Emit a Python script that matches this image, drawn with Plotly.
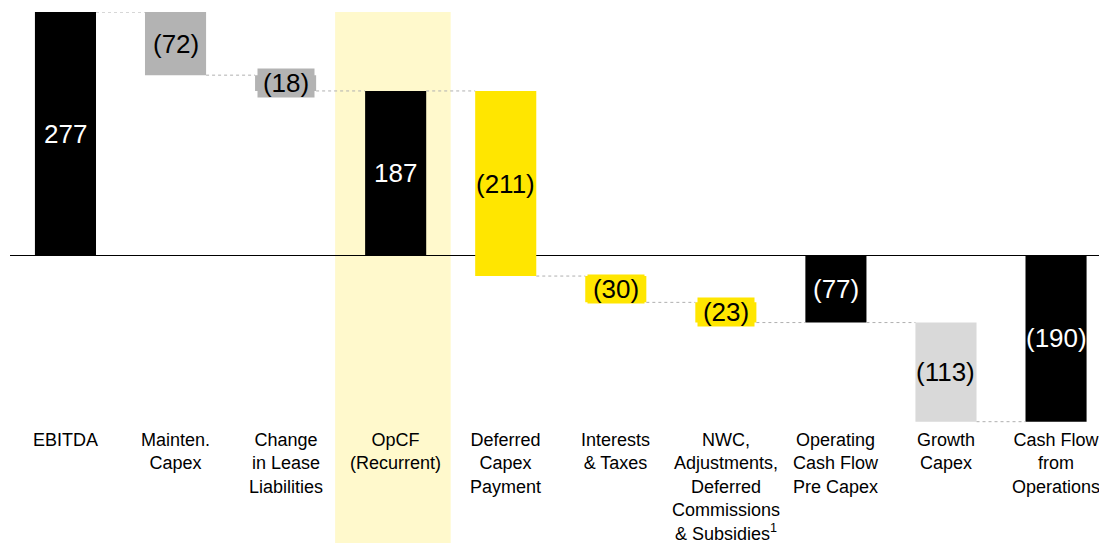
import plotly.graph_objects as go

# Datos del puente de caja
labels = ["EBITDA", "Mainten.<br>Capex", "Change<br>in Lease<br>Liabilities", "OpCF<br>(Recurrent)",
          "Deferred<br>Capex<br>Payment", "Interests<br>& Taxes",
          "NWC,<br>Adjustments,<br>Deferred<br>Commissions<br>& Subsidies<sup>1</sup>",
          "Operating<br>Cash Flow<br>Pre Capex", "Growth<br>Capex", "Cash Flow<br>from<br>Operations"]
measures = ["absolute", "relative", "relative", "total", "relative", "relative", "relative", "total", "relative", "total"]
values = [277, -72, -18, 187, -211, -30, -23, -77, -113, -190]
colors = ["#000000", "#b3b3b3", "#b3b3b3", "#000000", "#ffe600", "#ffe600", "#ffe600", "#000000", "#d9d9d9", "#000000"]
small = [False, False, True, False, False, True, True, False, False, False]
highlight = 3

FONT = "Arial, Liberation Sans, sans-serif"
W = 0.555

# bases y finales de cada barra
bases, ends = [], []
running = 0
for m, v in zip(measures, values):
    if m == "absolute":
        b, e = 0, v
    elif m == "relative":
        b, e = running, running + v
    else:
        b, e = 0, running
    running = e
    bases.append(b)
    ends.append(e)

def fmt(v):
    return f"({abs(v)})" if v < 0 else str(v)

xs = list(range(len(values)))

fig = go.Figure()
fig.add_trace(go.Bar(
    x=xs, y=[e - b for b, e in zip(bases, ends)], base=bases,
    width=W, marker=dict(color=colors, line=dict(width=0)),
    hoverinfo="skip",
))

# conectores punteados
for i in range(len(values) - 1):
    fig.add_shape(type="line", xref="x", yref="y",
                  x0=i + W / 2, x1=i + 1 - W / 2, y0=ends[i], y1=ends[i],
                  line=dict(color="#b0b0b0", width=1, dash="dot"))

# etiquetas de valores (las barras pequeñas llevan caja de fondo)
for i, v in enumerate(values):
    tc = "white" if colors[i] == "#000000" else "black"
    kw = dict(width=56, height=28, bgcolor=colors[i], borderpad=0) if small[i] else {}
    fig.add_annotation(x=i, y=(bases[i] + ends[i]) / 2, text=fmt(v), showarrow=False,
                       font=dict(family=FONT, size=26, color=tc), **kw)

# categorias
for i, lab in enumerate(labels):
    fig.add_annotation(x=i, y=-197, yanchor="top", text=lab, showarrow=False,
                       font=dict(family=FONT, size=18, color="black"), align="center")

# columna resaltada
fig.add_shape(type="rect", xref="x", yref="paper", x0=highlight - 0.55, x1=highlight + 0.5,
              y0=0, y1=1, fillcolor="#fff9cc", line=dict(width=0), layer="below")

# la página trae 8px de margen en el body: se compensa
fig.update_layout(
    width=1099, height=535, showlegend=False,
    margin=dict(l=2, r=0, t=4, b=0),
    plot_bgcolor="white", paper_bgcolor="white",
    xaxis=dict(range=[-0.504, 9.463], visible=False),
    yaxis=dict(range=[-328.3, 277], showgrid=False, showticklabels=False, ticks="",
               zeroline=True, zerolinecolor="black", zerolinewidth=1),
)

fig.write_html("out.html")
